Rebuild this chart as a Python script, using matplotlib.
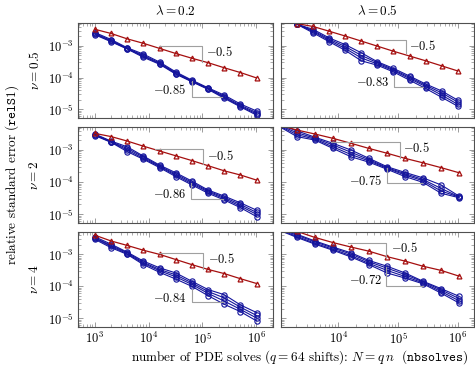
import numpy as np
import matplotlib
matplotlib.use("Agg")
import matplotlib.pyplot as plt
from matplotlib.ticker import LogLocator, NullFormatter

plt.rcParams['font.family'] = 'serif'
plt.rcParams['font.serif'] = ['cmr10']
plt.rcParams['mathtext.fontset'] = 'cm'
plt.rcParams['axes.unicode_minus'] = False
plt.rcParams['axes.formatter.use_mathtext'] = True

# x values (number of PDE solves)
x_left = [1000, 2000, 4000, 8000, 16000, 32000, 64000, 128000, 256000, 512000, 1024000]
x_top_right = [2050, 3810, 7080, 13100, 24400, 45300, 84100, 156000, 290000, 538000, 1000000]
x_right = [1024, 2048, 4096, 8192, 16384, 32768, 65536, 131072, 262144, 524288, 1048576]

# values stored as log10 of relative standard error
# row: nu = 0.5, 2, 4 ; column: lambda = 0.2, 0.5
red_log = {
    (0, 0): [-2.48, -2.61, -2.78, -2.92, -3.08, -3.24, -3.39, -3.53, -3.69, -3.84, -4.01],
    (0, 1): [-2.30, -2.39, -2.54, -2.69, -2.85, -3.01, -3.17, -3.32, -3.47, -3.63, -3.79],
    (1, 0): [-2.48, -2.58, -2.72, -2.88, -3.03, -3.18, -3.33, -3.49, -3.65, -3.78, -3.94],
    (1, 1): [-2.22, -2.375, -2.50, -2.635, -2.79, -2.95, -3.10, -3.26, -3.40, -3.55, -3.71],
    (2, 0): [-2.40, -2.58, -2.72, -2.87, -3.00, -3.16, -3.32, -3.47, -3.60, -3.76, -3.91],
    (2, 1): [-2.13, -2.28, -2.47, -2.63, -2.77, -2.90, -3.07, -3.21, -3.37, -3.50, -3.68],
}

blue_log = {
    (0, 0): [
        [-2.58, -2.80, -3.06, -3.26, -3.51, -3.82, -4.08, -4.32, -4.55, -4.83, -5.05],
        [-2.61, -2.83, -3.08, -3.30, -3.54, -3.85, -4.10, -4.34, -4.59, -4.87, -5.10],
        [-2.63, -2.85, -3.09, -3.33, -3.56, -3.87, -4.12, -4.35, -4.62, -4.90, -5.14],
        [-2.65, -2.87, -3.10, -3.36, -3.58, -3.89, -4.13, -4.37, -4.65, -4.92, -5.18],
    ],
    (0, 1): [
        [-2.32, -2.48, -2.75, -2.96, -3.22, -3.50, -3.71, -3.95, -4.20, -4.42, -4.71],
        [-2.32, -2.52, -2.79, -3.02, -3.30, -3.53, -3.75, -3.99, -4.24, -4.48, -4.77],
        [-2.32, -2.55, -2.83, -3.08, -3.38, -3.57, -3.78, -4.03, -4.28, -4.55, -4.84],
        [-2.32, -2.59, -2.87, -3.14, -3.47, -3.61, -3.82, -4.08, -4.34, -4.62, -4.90],
    ],
    (1, 0): [
        [-2.50, -2.72, -2.90, -3.19, -3.47, -3.71, -3.97, -4.25, -4.44, -4.65, -4.88],
        [-2.52, -2.74, -2.95, -3.22, -3.50, -3.75, -4.01, -4.28, -4.48, -4.70, -4.95],
        [-2.53, -2.75, -3.00, -3.26, -3.52, -3.79, -4.05, -4.31, -4.52, -4.75, -5.01],
        [-2.55, -2.76, -3.05, -3.29, -3.55, -3.83, -4.09, -4.35, -4.56, -4.80, -5.08],
    ],
    (1, 1): [
        [-2.20, -2.40, -2.60, -2.79, -3.00, -3.26, -3.52, -3.70, -3.87, -4.09, -4.44],
        [-2.22, -2.46, -2.63, -2.84, -3.07, -3.30, -3.55, -3.74, -3.92, -4.20, -4.46],
        [-2.24, -2.52, -2.66, -2.90, -3.14, -3.34, -3.57, -3.78, -3.96, -4.28, -4.47],
        [-2.26, -2.58, -2.69, -2.95, -3.21, -3.38, -3.60, -3.83, -4.01, -4.35, -4.49],
    ],
    (2, 0): [
        [-2.45, -2.68, -2.93, -3.21, -3.42, -3.58, -3.84, -4.10, -4.26, -4.58, -4.82],
        [-2.48, -2.72, -2.95, -3.25, -3.47, -3.64, -3.89, -4.16, -4.36, -4.65, -4.91],
        [-2.50, -2.75, -2.98, -3.28, -3.51, -3.70, -3.94, -4.22, -4.46, -4.72, -4.99],
        [-2.53, -2.79, -3.00, -3.32, -3.56, -3.77, -4.00, -4.29, -4.56, -4.79, -5.08],
    ],
    (2, 1): [
        [-2.18, -2.37, -2.58, -2.77, -2.95, -3.19, -3.37, -3.58, -3.84, -4.07, -4.31],
        [-2.20, -2.40, -2.61, -2.80, -2.99, -3.23, -3.43, -3.63, -3.86, -4.11, -4.38],
        [-2.22, -2.44, -2.65, -2.84, -3.04, -3.28, -3.50, -3.69, -3.89, -4.16, -4.45],
        [-2.24, -2.47, -2.68, -2.87, -3.08, -3.32, -3.58, -3.74, -3.92, -4.21, -4.52],
    ],
}

# slope triangles: (x0, x1, y_top, y_bot, label_x, label_y) in log10 units
slope_half = {
    (0, 0): (4.20, 5.00, -3.01, -3.51, 5.07, -3.19),
    (0, 1): (4.64, 5.14, -2.80, -3.24, 5.19, -3.00),
    (1, 0): (4.11, 5.02, -2.98, -3.45, 5.09, -3.18),
    (1, 1): (3.88, 5.03, -2.76, -3.26, 5.08, -2.95),
    (2, 0): (4.19, 5.02, -2.95, -3.45, 5.10, -3.14),
    (2, 1): (4.16, 4.80, -2.65, -3.07, 4.88, -2.81),
}
slope_fit = {
    (0, 0): (4.80, 5.37, -4.11, -4.61, 4.70, -4.40, "-0.85"),
    (0, 1): (4.93, 5.41, -3.95, -4.31, 4.86, -4.16, "-0.83"),
    (1, 0): (4.79, 5.38, -4.04, -4.53, 4.70, -4.40, "-0.86"),
    (1, 1): (4.81, 5.395, -3.55, -4.04, 4.745, -3.96, "-0.75"),
    (2, 0): (4.80, 5.38, -4.08, -4.50, 4.70, -4.38, "-0.84"),
    (2, 1): (4.80, 5.41, -3.40, -3.98, 4.745, -3.83, "-0.72"),
}

col_titles = [r"$\lambda = 0.2$", r"$\lambda = 0.5$"]
row_labels = [r"$\nu = 0.5$", r"$\nu = 2$", r"$\nu = 4$"]

red = '#a50f0f'
blue = '#14149c'
gray = '#a0a0a0'

W, H = 475, 372
fig = plt.figure(figsize=(4.75, 3.72), dpi=100)

col_x = [(78, 272.7), (280.7, 474)]
row_y = [(23.3, 118), (127.3, 222.7), (231.7, 327)]

for r in range(3):
    for c in range(2):
        x0, x1 = col_x[c]
        t, b = row_y[r]
        ax = fig.add_axes([x0 / W, 1 - b / H, (x1 - x0) / W, (b - t) / H])
        if c == 0:
            xs = x_left
        elif r == 0:
            xs = x_top_right
        else:
            xs = x_right
        for yl in blue_log[(r, c)]:
            ax.plot(xs, 10.0 ** np.array(yl), color=blue, lw=0.8, marker='o',
                    ms=3.8, mfc='none', mec=blue, mew=0.8)
        ax.plot(xs, 10.0 ** np.array(red_log[(r, c)]), color=red, lw=0.9,
                marker='^', ms=3.5, mfc='none', mec=red, mew=0.9)

        sx0, sx1, sy0, sy1, lx, ly = slope_half[(r, c)]
        ax.plot([10**sx0, 10**sx1, 10**sx1], [10**sy0, 10**sy0, 10**sy1],
                color=gray, lw=0.8)
        ax.text(10**lx, 10**ly, r"$-0.5$", fontsize=9, ha='left', va='center')

        fx0, fx1, fy0, fy1, flx, fly, lab = slope_fit[(r, c)]
        ax.plot([10**fx0, 10**fx0, 10**fx1], [10**fy0, 10**fy1, 10**fy1],
                color=gray, lw=0.8)
        ax.text(10**flx, 10**fly, "$" + lab + "$", fontsize=9, ha='right', va='center')

        ax.set_xscale('log')
        ax.set_yscale('log')
        if c == 0:
            ax.set_xlim(10**2.685, 10**6.31)
        else:
            ax.set_xlim(10**3.04, 10**6.27)
        ax.set_ylim(10**-5.27, 10**-2.29)
        ax.xaxis.set_major_locator(LogLocator(base=10, numticks=10))
        ax.yaxis.set_major_locator(LogLocator(base=10, numticks=10))
        ax.xaxis.set_minor_locator(LogLocator(base=10, subs=np.arange(2, 10), numticks=20))
        ax.yaxis.set_minor_locator(LogLocator(base=10, subs=np.arange(2, 10), numticks=20))
        ax.xaxis.set_minor_formatter(NullFormatter())
        ax.yaxis.set_minor_formatter(NullFormatter())
        ax.tick_params(which='both', direction='in', top=True, right=True,
                       color='#8c8c8c', labelsize=9, pad=3)
        ax.tick_params(which='major', length=3.5, width=0.6)
        ax.tick_params(which='minor', length=2, width=0.5)
        for sp in ax.spines.values():
            sp.set_color('#505050')
            sp.set_linewidth(0.8)
        if r < 2:
            ax.set_xticklabels([])
        if c == 1:
            ax.set_yticklabels([])

for c, title in enumerate(col_titles):
    xc = (col_x[c][0] + col_x[c][1]) / 2
    fig.text(xc / W, 1 - 11 / H, title, fontsize=9.5, ha='center', va='center')

for r, lab in enumerate(row_labels):
    yc = (row_y[r][0] + row_y[r][1]) / 2
    fig.text(35 / W, 1 - yc / H, lab, fontsize=9.5, ha='center', va='center', rotation=90)

fig.text(12 / W, 1 - 175 / H, r"relative standard error ($\mathtt{relS1}$)",
         fontsize=9.5, ha='center', va='center', rotation=90)
fig.text(300 / W, 1 - 357 / H,
         r"number of PDE solves ($q = 64$ shifts): $N = q\,n$  ($\mathtt{nbsolves}$)",
         fontsize=9.5, ha='center', va='center')

fig.savefig('out.png', dpi=100)
